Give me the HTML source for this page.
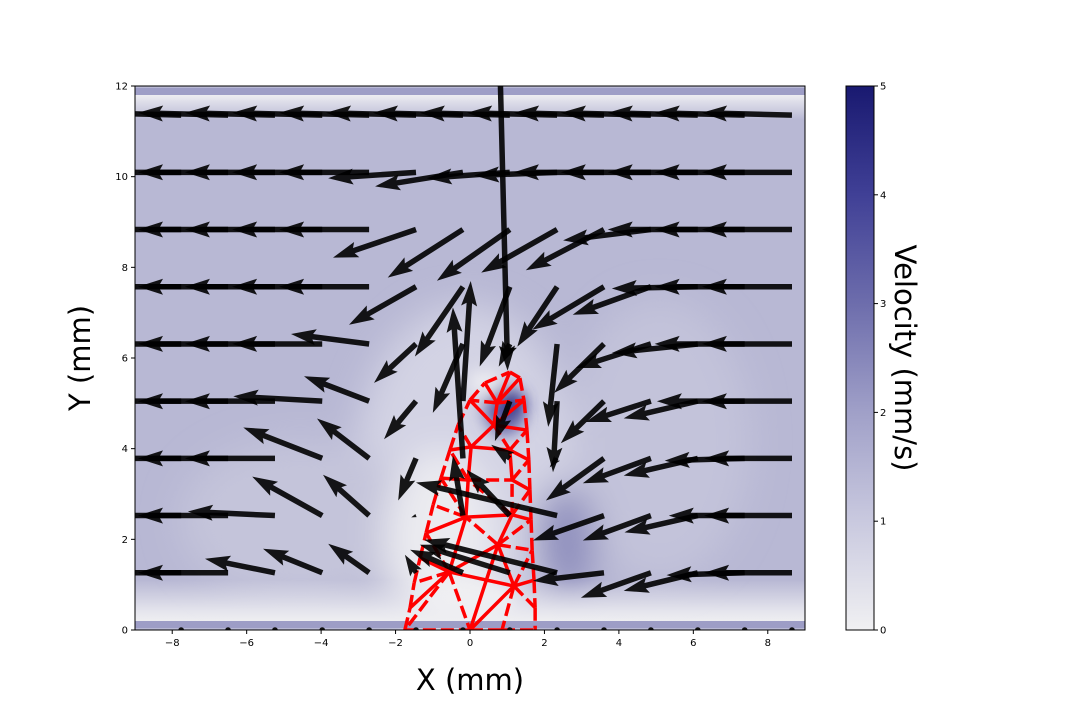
<!DOCTYPE html>
<html><head><meta charset="utf-8"><style>
html,body{margin:0;padding:0;background:#fff;}
svg{display:block;font-family:"DejaVu Sans","Liberation Sans",sans-serif;}
</style></head><body>
<svg id="chart" width="1080" height="720" viewBox="0 0 1080 720" xmlns="http://www.w3.org/2000/svg">
<defs>
<clipPath id="axclip"><rect x="135" y="86" width="670" height="544"/></clipPath>
<filter id="blur1" filterUnits="userSpaceOnUse" x="0" y="0" width="1080" height="720"><feGaussianBlur stdDeviation="18"/></filter>
<filter id="blur2" filterUnits="userSpaceOnUse" x="0" y="0" width="1080" height="720"><feGaussianBlur stdDeviation="8"/></filter>
<linearGradient id="cbgrad" x1="0" y1="1" x2="0" y2="0">
<stop offset="0" stop-color="#f0f0f2"/>
<stop offset="0.2" stop-color="#c9c9df"/>
<stop offset="0.4" stop-color="#a0a0c8"/>
<stop offset="0.6" stop-color="#6d6dac"/>
<stop offset="0.8" stop-color="#404096"/>
<stop offset="1" stop-color="#191970"/>
</linearGradient>
<linearGradient id="topband" x1="0" y1="0" x2="0" y2="1">
<stop offset="0" stop-color="#ececf1"/><stop offset="1" stop-color="#ececf1" stop-opacity="0"/>
</linearGradient>
<linearGradient id="botband" x1="0" y1="1" x2="0" y2="0">
<stop offset="0" stop-color="#f0f0f2"/><stop offset="0.3" stop-color="#eeeef2" stop-opacity="0.8"/><stop offset="1" stop-color="#eeeef2" stop-opacity="0"/>
</linearGradient>
</defs>
<g id="heatmap" clip-path="url(#axclip)">
<rect x="135" y="86" width="670" height="544" fill="#b8b8d4"/>
<g filter="url(#blur1)">
<ellipse cx="465" cy="470" rx="110" ry="165" fill="#d3d3e4"/>
<ellipse cx="660" cy="440" rx="90" ry="140" fill="#c3c3da"/>
<ellipse cx="300" cy="520" rx="120" ry="80" fill="#c4c4da"/>
<ellipse cx="440" cy="540" rx="55" ry="90" fill="#ebebf0"/>
<ellipse cx="565" cy="540" rx="30" ry="55" fill="#8f8fbd"/>
</g>
<g filter="url(#blur2)">
<ellipse cx="505" cy="410" rx="20" ry="25" fill="#6060a5"/>
<ellipse cx="470" cy="600" rx="45" ry="20" fill="#f0f0f2"/>
<rect x="470" y="372" width="30" height="22" fill="#eeeef2"/>
<rect x="500" y="395" width="25" height="20" fill="#2a2a85"/>
</g>
<rect x="135" y="95" width="670" height="25" fill="url(#topband)"/>
<rect x="135" y="580" width="670" height="43" fill="url(#botband)"/>
<rect x="135" y="88" width="670" height="7" fill="#9d9dc6"/>
<rect x="135" y="621" width="670" height="7" fill="#9d9dc6"/>
</g>
<g id="mesh" clip-path="url(#axclip)"></g>
<g id="quiver" clip-path="url(#axclip)"></g>
<rect x="135" y="86" width="670" height="544" fill="none" stroke="#000" stroke-width="1"/>
<g id="xaxis"></g>
<g id="yaxis"></g>
<text x="470" y="690" text-anchor="middle" font-size="29">X (mm)</text>
<text transform="translate(90,358) rotate(-90)" text-anchor="middle" font-size="29">Y (mm)</text>
<rect x="846" y="86" width="28" height="544" fill="url(#cbgrad)" stroke="#000" stroke-width="1"/>
<g id="cbaxis"></g>
<text transform="translate(895,358) rotate(90)" text-anchor="middle" font-size="29">Velocity (mm/s)</text>
</svg>
<script>
const xTicks = [-8,-6,-4,-2,0,2,4,6,8];
const yTicks = [0,2,4,6,8,10,12];
const cbTicks = [0,1,2,3,4,5];
const gridX = [-7.76,-6.50,-5.24,-3.97,-2.71,-1.45,-0.19,1.07,2.34,3.60,4.86,6.12,7.38,8.65];
const gridY = [0,1.262,2.524,3.786,5.048,6.31,7.572,8.834,10.096,11.358];
const uRow0 = [0,0,0,0,0,0,0,0,0,0,0,0,0,0];
const vRow0 = [0,0,0,0,0,0,0,0,0,0,0,0,0,0];
const uRow1 = [-2.42,-2.42,-1.88,-1.59,-1.10,-0.30,-1.42,-2.42,-3.57,-1.91,-1.88,-1.99,-2.10,-2.36];
const vRow1 = [0,0,0.31,0.53,0.64,0.40,0.51,0.62,0.73,-0.18,-0.55,-0.40,-0.05,0];
const uRow2 = [-2.42,-2.42,-2.34,-1.88,-1.24,-0.13,-0.27,-1.16,-3.79,-1.91,-1.83,-1.97,-2.04,-2.36];
const vRow2 = [0,0,0.09,0.86,0.90,-0.04,1.32,1.01,0.73,-0.55,-0.55,-0.37,0,0];
const uRow3 = [-2.42,-2.42,-2.42,-2.12,-1.40,-0.48,-0.27,-0.50,-0.20,-1.56,-1.83,-1.99,-2.15,-2.36];
const vRow3 = [0,0,0,0.68,0.88,-0.93,3.33,0.30,-0.20,-0.93,-0.55,-0.38,-0.05,0];
const uRow4 = [-2.42,-2.42,-2.42,-2.39,-1.75,-0.86,0.21,-0.40,-0.11,-1.16,-1.75,-1.99,-2.36,-2.42];
const vRow4 = [0,0,0,0.11,0.55,-0.84,2.65,-0.88,-1.57,-0.93,-0.46,-0.38,0,0];
const uRow5 = [-2.42,-2.42,-2.42,-2.42,-2.10,-1.13,-0.81,-0.30,-0.24,-1.34,-2.02,-2.31,-2.42,-2.42];
const vRow5 = [0,0,0,0,0.22,-0.86,-1.52,-0.50,-1.83,-1.08,-0.53,-0.20,0,0];
const uRow6 = [-2.42,-2.42,-2.42,-2.42,-2.42,-1.80,-1.29,-0.81,-1.07,-1.93,-2.10,-2.31,-2.42,-2.42];
const vRow6 = [0,0,0,0,0,-0.84,-1.54,-1.76,-1.32,-0.95,-0.62,-0.04,0,0];
const uRow7 = [-2.42,-2.42,-2.42,-2.42,-2.42,-2.23,-2.02,-1.96,-2.04,-2.10,-2.36,-2.42,-2.42,-2.42];
const vRow7 = [0,0,0,0,0,-0.62,-1.06,-1.13,-0.95,-0.90,-0.24,0,0,0];
const uRow8 = [-2.42,-2.42,-2.42,-2.42,-2.42,-2.36,-2.36,-2.23,-2.23,-2.42,-2.42,-2.42,-2.42,-2.42];
const vRow8 = [0,0,0,0,0,-0.13,-0.31,-0.13,-0.07,0,0,0,0,0];
const uRow9 = [-2.42,-2.42,-2.42,-2.42,-2.42,-2.42,-2.42,-2.42,-2.42,-2.42,-2.42,-2.42,-2.42,-2.42];
const vRow9 = [0.05,0.05,0.05,0.05,0.05,0.05,0.05,0.05,0.05,0.05,0.05,0.05,0.05,0.05];
const extraX = [0.8];
const extraY = [12.62];
const extraU = [0.21];
const extraV = [-6.9];
const meshX = [-1.75,-1.61,-1.50,-1.34,-1.18,-0.99,-0.78,-0.54,-0.32,0,0.40,1.07,1.34,1.45,1.53,1.58,1.61,1.64,1.67,1.72,1.75,1.75,0,0.86,-0.56,1.18,0.75,-0.11,1.13,-0.05,1.13,0.03,1.07,0.64,0.73];
const meshY = [0,0.49,1.04,1.59,2.14,2.76,3.35,3.97,4.52,5.07,5.45,5.69,5.56,5.07,4.41,3.75,3.09,2.43,1.76,1.10,0.49,0,0,0,1.28,0.97,1.88,2.49,2.54,3.31,3.31,4.04,3.97,4.52,5.01];
const meshSolid = [[24,1],[24,3],[24,27],[24,26],[24,25],[25,22],[25,19],[25,26],[26,28],[27,4],[27,29],[27,28],[28,17],[29,6],[29,31],[30,16],[30,32],[31,7],[31,33],[31,32],[33,9],[33,34],[33,13],[33,14],[34,10],[34,11],[34,12],[32,15],[22,26]];
const meshDashed = [[0,1],[1,2],[2,3],[3,4],[4,5],[5,6],[6,7],[7,8],[8,9],[9,10],[10,11],[11,12],[12,13],[13,14],[14,15],[15,16],[16,17],[17,18],[18,19],[19,20],[20,21],[0,22],[22,23],[23,21],[24,2],[24,4],[24,22],[24,0],[25,23],[25,20],[25,18],[26,27],[26,18],[26,17],[27,5],[27,6],[28,16],[28,30],[28,29],[29,7],[29,30],[30,15],[31,8],[32,14],[32,33],[34,9],[34,13]];

const NS='http://www.w3.org/2000/svg';
const X0=135,X1=805,Y0=630,Y1=86;
function sx(x){return X0+(x+9)*(X1-X0)/18;}
function sy(y){return Y0-y*(Y0-Y1)/12;}
function su(u){return u*(X1-X0)/18;}
function sv(v){return -v*(Y0-Y1)/12;}
function mk(tag,attrs,parent){const e=document.createElementNS(NS,tag);for(const k in attrs)e.setAttribute(k,attrs[k]);parent.appendChild(e);return e;}

const xa=document.getElementById('xaxis');
xTicks.forEach(t=>{
  const l=mk('line',{x1:sx(t),x2:sx(t),y1:630,y2:634,stroke:'#000','stroke-width':1},xa);
  
  
  const tx=mk('text',{x:sx(t),y:646,'text-anchor':'middle','font-size':10},xa);
  
  
  tx.textContent=(t<0?'\u2212'+(-t):t);
});
const ya=document.getElementById('yaxis');
yTicks.forEach(t=>{
  const l=mk('line',{x1:131,x2:135,y1:sy(t),y2:sy(t),stroke:'#000','stroke-width':1},ya);
  
  
  const tx=mk('text',{x:128,y:sy(t)+3.5,'text-anchor':'end','font-size':10},ya);
  
  
  tx.textContent=t;
});
const ca=document.getElementById('cbaxis');
cbTicks.forEach(t=>{
  const y=630-t*544/5;
  const l=mk('line',{x1:874,x2:878,y1:y,y2:y,stroke:'#000','stroke-width':1},ca);
  
  
  const tx=mk('text',{x:880,y:y+3.5,'font-size':10},ca);
  
  
  tx.textContent=t;
});

const mg=document.getElementById('mesh');
function edge(p,dashed){
  const a=p[0],b=p[1];
  const l=mk('line',{x1:sx(meshX[a]),y1:sy(meshY[a]),x2:sx(meshX[b]),y2:sy(meshY[b]),stroke:'#ff0000','stroke-width':3.5,'stroke-linecap':'butt'},mg);
  if(dashed)l.setAttribute('stroke-dasharray','13,5');
  
  
}
meshSolid.forEach(p=>edge(p,false));
meshDashed.forEach(p=>edge(p,true));

const qg=document.getElementById('quiver');
const W=5.5,HL=25,HA=22,HW=8;
function arrow(x,y,u,v){
  const px=sx(x),py=sy(y),dx=su(u),dy=sv(v);
  const L=Math.hypot(dx,dy);
  if(L<1){
    const c=mk('circle',{cx:px,cy:py,r:2.8,fill:'#111'},qg);
    
    
    return;
  }
  let s=1; if(L<HL) s=L/HL;
  const hl=HL*s,ha=HA*s,hw=HW*s,w=W/2*Math.max(s,0.6);
  const pts=[[0,-w],[L-ha,-w],[L-hl,-hw],[L,0],[L-hl,hw],[L-ha,w],[0,w]];
  const ang=Math.atan2(dy,dx);
  const c=Math.cos(ang),sn=Math.sin(ang);
  const str=pts.map(p=>(px+p[0]*c-p[1]*sn).toFixed(1)+','+(py+p[0]*sn+p[1]*c).toFixed(1)).join(' ');
  const pg=mk('polygon',{points:str,fill:'#000','fill-opacity':0.9},qg);
  
  
}
const uRows=[uRow0,uRow1,uRow2,uRow3,uRow4,uRow5,uRow6,uRow7,uRow8,uRow9];
const vRows=[vRow0,vRow1,vRow2,vRow3,vRow4,vRow5,vRow6,vRow7,vRow8,vRow9];
for(let r=0;r<gridY.length;r++){
  for(let c=0;c<gridX.length;c++){
    arrow(gridX[c],gridY[r],uRows[r][c],vRows[r][c]);
  }
}
for(let i=0;i<extraX.length;i++)arrow(extraX[i],extraY[i],extraU[i],extraV[i]);
</script>
</body></html>
